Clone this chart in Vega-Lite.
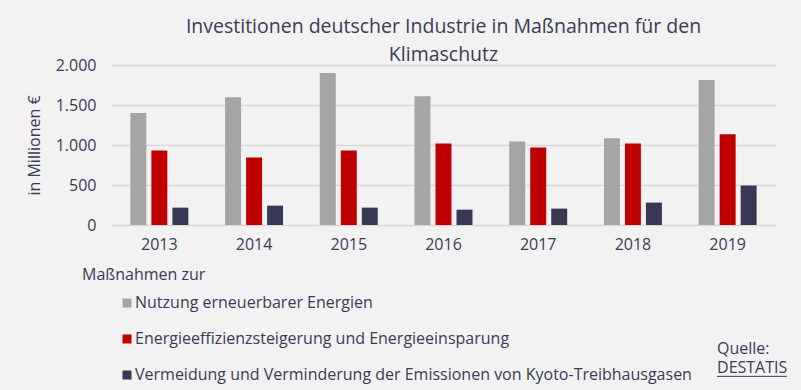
{
  "$schema": "https://vega.github.io/schema/vega-lite/v6.json",
  "width": 663,
  "height": 160,
  "autosize": {"type": "none"},
  "padding": {"left": 112, "top": 65, "right": 26, "bottom": 165},
  "background": "#f2f2f2",
  "title": {
    "text": ["Investitionen deutscher Industrie in Maßnahmen für den", "Klimaschutz"],
    "anchor": "middle",
    "font": "Open Sans",
    "fontSize": 19.5,
    "fontWeight": "normal",
    "color": "#3b3b55",
    "lineHeight": 28,
    "offset": -8
  },
  "config": {
    "view": {"stroke": null},
    "font": "Open Sans",
    "axisY": {"labelOverlap": false}
  },
  "resolve": {"axis": {"x": "independent", "y": "independent"}},
  "datasets": {
    "bars": [
      {"year": "2013", "cat": "Nutzung erneuerbarer Energien", "value": 1400},
      {"year": "2013", "cat": "Energieeffizienzsteigerung und Energieeinsparung", "value": 932},
      {"year": "2013", "cat": "Vermeidung und Verminderung der Emissionen von Kyoto-Treibhausgasen", "value": 217},
      {"year": "2014", "cat": "Nutzung erneuerbarer Energien", "value": 1598},
      {"year": "2014", "cat": "Energieeffizienzsteigerung und Energieeinsparung", "value": 845},
      {"year": "2014", "cat": "Vermeidung und Verminderung der Emissionen von Kyoto-Treibhausgasen", "value": 242},
      {"year": "2015", "cat": "Nutzung erneuerbarer Energien", "value": 1899},
      {"year": "2015", "cat": "Energieeffizienzsteigerung und Energieeinsparung", "value": 932},
      {"year": "2015", "cat": "Vermeidung und Verminderung der Emissionen von Kyoto-Treibhausgasen", "value": 217},
      {"year": "2016", "cat": "Nutzung erneuerbarer Energien", "value": 1610},
      {"year": "2016", "cat": "Energieeffizienzsteigerung und Energieeinsparung", "value": 1020},
      {"year": "2016", "cat": "Vermeidung und Verminderung der Emissionen von Kyoto-Treibhausgasen", "value": 192},
      {"year": "2017", "cat": "Nutzung erneuerbarer Energien", "value": 1045},
      {"year": "2017", "cat": "Energieeffizienzsteigerung und Energieeinsparung", "value": 970},
      {"year": "2017", "cat": "Vermeidung und Verminderung der Emissionen von Kyoto-Treibhausgasen", "value": 205},
      {"year": "2018", "cat": "Nutzung erneuerbarer Energien", "value": 1083},
      {"year": "2018", "cat": "Energieeffizienzsteigerung und Energieeinsparung", "value": 1020},
      {"year": "2018", "cat": "Vermeidung und Verminderung der Emissionen von Kyoto-Treibhausgasen", "value": 280},
      {"year": "2019", "cat": "Nutzung erneuerbarer Energien", "value": 1811},
      {"year": "2019", "cat": "Energieeffizienzsteigerung und Energieeinsparung", "value": 1133},
      {"year": "2019", "cat": "Vermeidung und Verminderung der Emissionen von Kyoto-Treibhausgasen", "value": 493}
    ],
    "source": [
      {"year": "2019", "label": "Quelle:\nDESTATIS"}
    ]
  },
  "layer": [
    {
      "data": {"name": "bars"},
      "mark": {"type": "bar"},
      "encoding": {
        "x": {
          "field": "year",
          "type": "nominal",
          "scale": {"paddingInner": 0.388, "paddingOuter": 0.194},
          "axis": {
            "title": null,
            "labelAngle": 0,
            "labelFontSize": 16,
            "labelColor": "#3b3b55",
            "labelPadding": 11,
            "ticks": false,
            "domain": false
          }
        },
        "xOffset": {
          "field": "cat",
          "type": "nominal",
          "sort": ["Nutzung erneuerbarer Energien", "Energieeffizienzsteigerung und Energieeinsparung", "Vermeidung und Verminderung der Emissionen von Kyoto-Treibhausgasen"],
          "scale": {"paddingInner": 0.24}
        },
        "y": {
          "field": "value",
          "type": "quantitative",
          "scale": {"domain": [0, 2000], "nice": false},
          "axis": {
            "title": "in Millionen €",
            "titleFontSize": 16,
            "titleFontWeight": "normal",
            "titleColor": "#3b3b55",
            "titlePadding": 13,
            "values": [0, 500, 1000, 1500, 2000],
            "labelExpr": "replace(format(datum.value, ','), ',', '.')",
            "labelFontSize": 16,
            "labelColor": "#3b3b55",
            "labelPadding": 16,
            "labelOverlap": false,
            "ticks": false,
            "domain": false,
            "grid": true,
            "gridColor": "#d9d9d9",
            "gridWidth": 1.5
          }
        },
        "color": {
          "field": "cat",
          "type": "nominal",
          "scale": {
            "domain": ["Nutzung erneuerbarer Energien", "Energieeffizienzsteigerung und Energieeinsparung", "Vermeidung und Verminderung der Emissionen von Kyoto-Treibhausgasen"],
            "range": ["#a5a5a5", "#c00000", "#383854"]
          },
          "legend": {
            "title": "Maßnahmen zur",
            "orient": "none",
            "legendX": -30,
            "legendY": 202,
            "titleFontSize": 16,
            "titleFontWeight": "normal",
            "titleColor": "#3b3b55",
            "titlePadding": 12,
            "labelFontSize": 16,
            "labelColor": "#3b3b55",
            "labelOffset": 0,
            "labelLimit": 700,
            "symbolType": "square",
            "symbolSize": 81,
            "symbolStrokeWidth": 0,
            "symbolOffset": 37,
            "rowPadding": 20
          }
        }
      }
    },
    {
      "data": {"name": "source"},
      "mark": {
        "type": "text",
        "align": "left",
        "baseline": "middle",
        "lineBreak": "\n",
        "lineHeight": 19,
        "fontSize": 16,
        "color": "#3b3b55"
      },
      "encoding": {
        "x": {"datum": "2019", "bandPosition": 0.317, "axis": null},
        "y": {"datum": -1553, "axis": null},
        "text": {"field": "label"}
      }
    },
    {
      "data": {"name": "source"},
      "mark": {"type": "rule", "color": "#3b3b55", "strokeWidth": 1},
      "encoding": {
        "x": {"datum": "2019", "bandPosition": 0.317, "axis": null},
        "x2": {"datum": "2019", "bandPosition": 1.52},
        "y": {"datum": -1892, "axis": null}
      }
    }
  ]
}
